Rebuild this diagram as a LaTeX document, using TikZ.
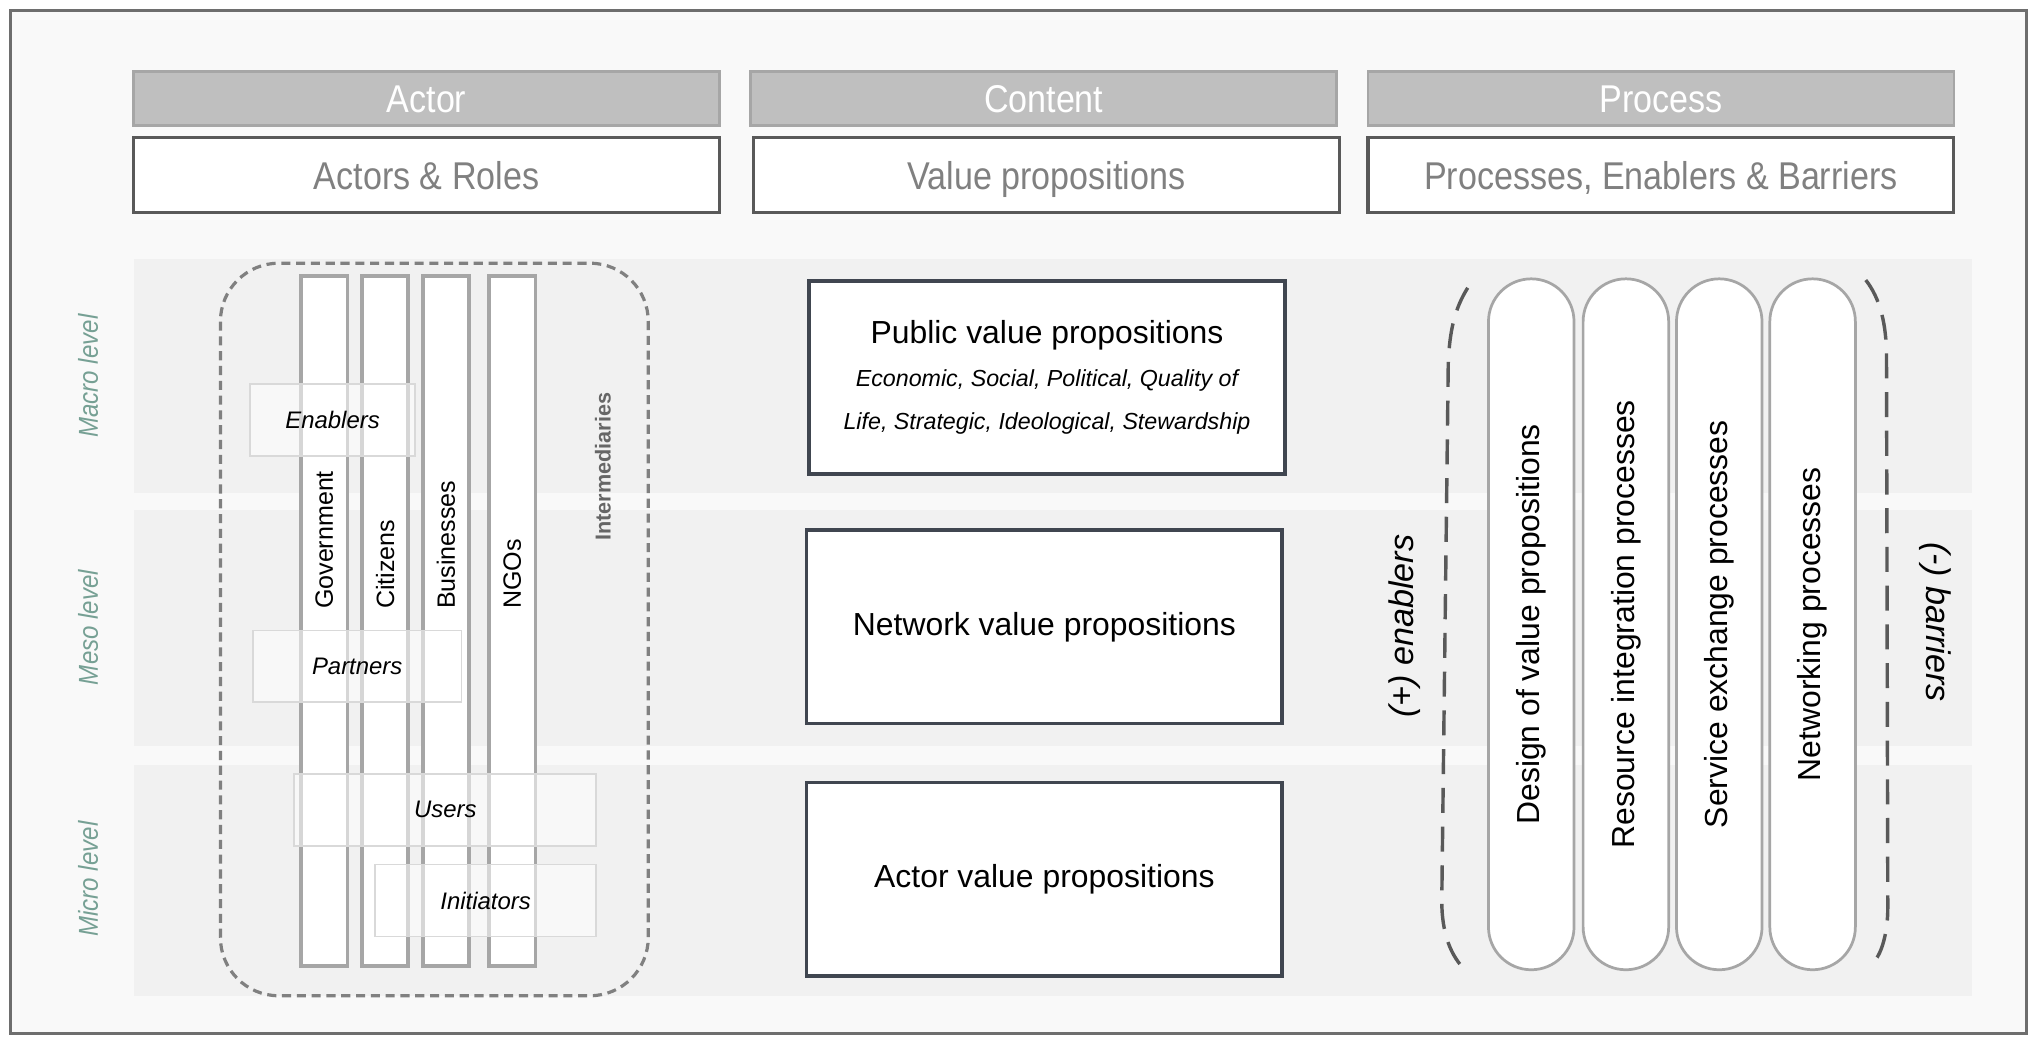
\documentclass[tikz,border=0pt]{standalone}
\usepackage{fontspec}
\setmainfont{Liberation Sans}
\newfontfamily\condfont[FakeStretch=0.88]{Liberation Sans}
\usetikzlibrary{positioning}
\definecolor{framegray}{RGB}{110,110,110}
\definecolor{bggray}{RGB}{249,249,249}
\definecolor{bandgray}{RGB}{241,241,241}
\definecolor{hdrfill}{RGB}{191,191,191}
\definecolor{hdrline}{RGB}{166,166,166}
\definecolor{subline}{RGB}{89,89,89}
\definecolor{subtext}{RGB}{128,128,128}
\definecolor{levelcol}{RGB}{118,160,148}
\definecolor{colline}{RGB}{166,166,166}
\definecolor{roleline}{RGB}{217,217,217}
\definecolor{boxline}{RGB}{64,70,80}
\definecolor{dashcol}{RGB}{128,128,128}
\definecolor{brackcol}{RGB}{89,89,89}

\begin{document}
\begin{tikzpicture}[x=0.02cm,y=-0.02cm,
  hdr/.style={draw=hdrline,fill=hdrfill,line width=1.2pt,text=white,minimum width=9.04cm,minimum height=0.84cm,inner sep=0pt,text height=14pt,text depth=1.5pt,font=\condfont\fontsize{17}{20}\selectfont},
  subhdr/.style={draw=subline,fill=white,line width=1.4pt,text=subtext,minimum width=9.04cm,minimum height=1.16cm,inner sep=0pt,text height=14pt,text depth=1.5pt,font=\condfont\fontsize{17}{20}\selectfont},
  lvl/.style={rotate=90,text=levelcol,font=\condfont\itshape\fontsize{12}{14}\selectfont},
  actorcol/.style={draw=colline,fill=white,line width=1.7pt,minimum width=0.72cm,minimum height=10.64cm,inner sep=0pt},
  collabel/.style={rotate=90,anchor=west,inner sep=0pt,font=\fontsize{11}{13}\selectfont},
  role/.style={draw=roleline,fill=white,fill opacity=0.55,text opacity=1,line width=0.8pt,minimum height=1.11cm,inner sep=0pt,font=\itshape\fontsize{10.5}{12}\selectfont},
  vpbox/.style={draw=boxline,fill=white,line width=1.7pt,minimum width=7.34cm,minimum height=2.98cm,inner sep=0pt,align=center,font=\fontsize{14}{19}\selectfont},
  pill/.style={draw=colline,fill=white,line width=1.2pt,rotate=90,minimum width=10.66cm,minimum height=1.32cm,rounded corners=0.66cm,inner sep=0pt,font=\fontsize{14}{16}\selectfont},
  brack/.style={draw=brackcol,line width=1.5pt,dash pattern=on 11pt off 6pt},
  sidelbl/.style={font=\itshape\fontsize{15}{17}\selectfont}]
  \useasboundingbox (0,0) rectangle (1568,800);
  \draw[framegray,fill=bggray,line width=1.3pt] (8,8) rectangle (1563,797);
  % levels
  \fill[bandgray] (103,200) rectangle (1521,380);
  \fill[bandgray] (103,393) rectangle (1521,575);
  \fill[bandgray] (103,590) rectangle (1521,768);
  \node[lvl] (macro) at (68,290) {Macro level};
  \node[lvl] (meso) at (68,484) {Meso level};
  \node[lvl] (micro) at (68,678) {Micro level};
  % headers
  \node[hdr] (actor) at (329,76) {Actor};
  \node[hdr] (content) at (805,76) {Content};
  \node[hdr] (process) at (1281,76) {Process};
  \node[subhdr] (roles) at (329,135) {Actors \& Roles};
  \node[subhdr] (props) at (807,135) {Value propositions};
  \node[subhdr] (procs) at (1281,135) {Processes, Enablers \& Barriers};
  % actors
  \draw[dashcol,line width=1.4pt,dash pattern=on 4pt off 2.5pt,rounded corners=0.9cm] (170,203) rectangle (500,768);
  \foreach \x/\name/\lbl in {250/gov/Government,297/cit/Citizens,344/bus/Businesses,395/ngo/NGOs}{
    \node[actorcol] (\name) at (\x,479) {};
    \node[collabel] (\name lbl) at (\x,470) {\lbl};
  }
  \node[rotate=90,text=gray!80!black,font=\bfseries\fontsize{9.5}{11}\selectfont] (inter) at (465,360) {Intermediaries};
  \node[role,minimum width=2.54cm] (enab) at (256.5,324) {Enablers};
  \node[role,minimum width=3.22cm] (part) at (275.5,514) {Partners};
  \node[role,minimum width=4.66cm] (users) at (343.5,624.5) {Users};
  \node[role,minimum width=3.42cm] (init) at (374.5,694.5) {Initiators};
  % content
  \node[vpbox] (pub) at (807.5,291) {Public value propositions\\ {\fontsize{10.2}{19}\selectfont\itshape Economic, Social, Political, Quality of}\\ {\fontsize{10.2}{19}\selectfont\itshape Life, Strategic, Ideological, Stewardship}};
  \node[vpbox] (net) at (805.5,483.5) {Network value propositions};
  \node[vpbox] (actvp) at (805.5,678) {Actor value propositions};
  % process
  \foreach \x/\name/\lbl in {1181/design/Design of value propositions,1254/resint/Resource integration processes,1326/servex/Service exchange processes,1398/netw/Networking processes}
    \node[pill] (\name) at (\x,481.5) {\lbl};
  \draw[brack] (1132,222) .. controls (1122,238) and (1118,255) .. (1117,280) -- (1112,695) .. controls (1112,720) and (1119,738) .. (1131,749);
  \draw[brack] (1439,216) .. controls (1450,230) and (1455,250) .. (1455,275) -- (1456,700) .. controls (1456,720) and (1451,735) .. (1446,741);
  \node[sidelbl,rotate=90] (enablers) at (1083,483) {(+) enablers};
  \node[sidelbl,rotate=-90] (barriers) at (1493,480) {(-) barriers};
\end{tikzpicture}
\end{document}
